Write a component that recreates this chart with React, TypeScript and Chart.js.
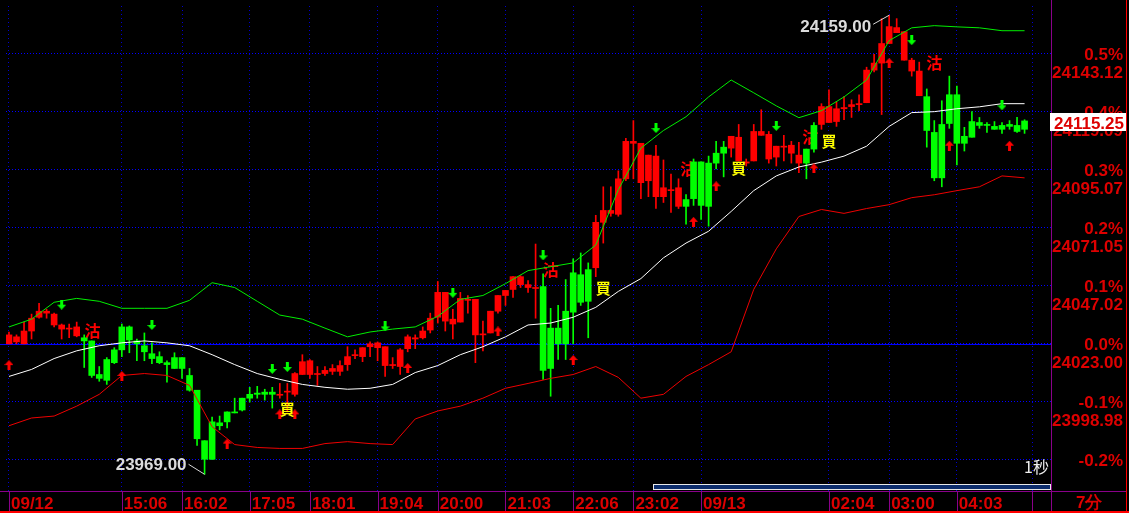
import React, { useEffect, useRef } from "react";
import { Chart, registerables } from "chart.js";

Chart.register(...registerables);

// ---------- data (7-minute candles, 09/12 13:21 -> 09/13 04:59) ----------
const OPEN = [
  24026.7, 24025.9, 24028.3, 24033.6, 24036.5, 24036.5, 24035.3, 24030.8, 24029.5, 24030.0,
  24024.2, 24009.9, 24008.7, 24007.9, 24015.2, 24020.5, 24024.6, 24023.0, 24019.7, 24016.9,
  24015.2, 24014.4, 24012.8, 24012.8, 24003.8, 23983.7, 23975.2, 23975.2, 23989.1, 23990.7,
  23994.4, 23995.6, 24000.5, 24002.1, 24002.1, 24002.1, 24002.1, 24003.4, 24010.7, 24015.6,
  24016.0, 24010.7, 24012.0, 24012.8, 24014.0, 24017.7, 24018.5, 24021.4, 24023.0, 24023.4,
  24021.8, 24014.4, 24020.5, 24025.9, 24025.5, 24028.3, 24033.6, 24044.3, 24044.3, 24033.2,
  24041.8, 24041.4, 24041.4, 24027.1, 24036.5, 24043.0, 24045.1, 24050.8, 24050.8, 24047.5,
  24046.3, 24012.0, 24012.8, 24023.0, 24023.0, 24036.1, 24040.2, 24040.6, 24073.3, 24078.2,
  24078.2, 24091.3, 24106.8, 24106.8, 24106.0, 24101.1, 24100.7, 24087.6, 24086.8, 24087.6,
  24079.9, 24083.1, 24080.3, 24079.9, 24097.8, 24101.9, 24108.9, 24108.5, 24098.3, 24110.9,
  24110.9, 24109.7, 24104.8, 24104.8, 24105.2, 24101.1, 24097.8, 24103.6, 24121.2, 24121.2,
  24120.3, 24120.8, 24122.0, 24122.4, 24136.3, 24139.2, 24147.3, 24154.3, 24153.9, 24152.2,
  24140.4, 24135.9, 24111.3, 24091.7, 24091.7, 24114.2, 24106.0, 24106.0, 24108.5, 24113.4,
  24113.4, 24111.8, 24111.8, 24113.0, 24110.9, 24111.8,
];
const HIGH = [
  24027.9, 24026.7, 24032.0, 24035.3, 24039.8, 24037.3, 24035.7, 24031.2, 24031.2, 24032.0,
  24026.7, 24024.2, 24013.6, 24017.3, 24021.4, 24031.2, 24030.4, 24025.0, 24027.5, 24023.4,
  24019.7, 24016.0, 24019.3, 24017.3, 24012.8, 24003.8, 23982.9, 23992.7, 23993.1, 23994.8,
  24000.5, 24000.5, 24005.0, 24005.4, 24004.2, 24005.0, 24006.6, 24006.6, 24011.1, 24018.5,
  24016.5, 24013.6, 24013.6, 24014.4, 24016.0, 24021.8, 24020.5, 24021.4, 24023.8, 24023.8,
  24021.8, 24017.3, 24021.0, 24026.7, 24026.7, 24030.0, 24035.7, 24048.8, 24044.3, 24037.3,
  24044.3, 24043.0, 24041.4, 24032.4, 24036.5, 24043.0, 24045.1, 24050.8, 24051.2, 24049.2,
  24064.3, 24052.0, 24037.7, 24038.9, 24049.6, 24058.2, 24060.6, 24056.5, 24076.2, 24088.0,
  24088.0, 24094.6, 24108.1, 24115.4, 24106.0, 24101.1, 24105.2, 24099.1, 24093.3, 24091.3,
  24084.8, 24099.5, 24098.3, 24100.7, 24106.8, 24106.8, 24108.9, 24113.8, 24099.5, 24113.8,
  24119.9, 24110.9, 24104.8, 24109.3, 24106.8, 24106.4, 24103.6, 24114.6, 24122.4, 24128.1,
  24123.2, 24125.3, 24124.0, 24126.1, 24137.5, 24142.8, 24157.6, 24159.0, 24157.6, 24152.2,
  24141.2, 24139.6, 24128.5, 24115.4, 24123.6, 24133.8, 24129.7, 24112.6, 24119.1, 24116.7,
  24114.6, 24115.0, 24114.6, 24115.4, 24116.7, 24115.75,
];
const LOW = [
  24023.0, 24023.0, 24023.0, 24025.0, 24033.6, 24033.6, 24030.0, 24025.0, 24025.5, 24025.9,
  24013.2, 24009.1, 24007.5, 24006.2, 24014.8, 24017.7, 24019.3, 24016.0, 24016.0, 24014.8,
  24014.8, 24007.1, 24012.8, 24008.7, 24003.4, 23980.9, 23969.0, 23975.2, 23987.4, 23988.2,
  23994.4, 23995.2, 23998.9, 24000.5, 23999.7, 23996.4, 24000.5, 23994.8, 24001.3, 24010.3,
  24008.7, 24005.8, 24009.9, 24010.3, 24009.9, 24012.0, 24016.9, 24015.6, 24017.7, 24016.0,
  24009.5, 24012.8, 24010.3, 24019.7, 24021.0, 24025.0, 24027.5, 24031.6, 24028.3, 24025.0,
  24032.0, 24035.7, 24015.2, 24020.1, 24027.5, 24035.7, 24038.9, 24042.2, 24046.3, 24044.3,
  24033.6, 24008.3, 24001.3, 24016.5, 24016.5, 24023.0, 24038.9, 24025.5, 24050.8, 24064.7,
  24075.8, 24075.8, 24090.5, 24091.3, 24083.1, 24083.9, 24079.0, 24081.5, 24077.4, 24079.0,
  24072.5, 24080.3, 24074.5, 24071.7, 24095.4, 24092.1, 24100.3, 24098.7, 24096.6, 24098.7,
  24109.3, 24097.8, 24096.6, 24098.7, 24097.8, 24093.8, 24091.3, 24102.3, 24111.8, 24114.6,
  24113.0, 24115.8, 24116.7, 24119.5, 24122.8, 24135.5, 24117.9, 24147.3, 24151.8, 24140.4,
  24133.8, 24125.7, 24104.4, 24090.5, 24088.0, 24112.2, 24097.0, 24102.8, 24108.5, 24112.2,
  24110.5, 24111.8, 24110.1, 24111.8, 24110.5, 24110.1,
];
const CLOSE = [
  24023.0, 24023.8, 24023.0, 24028.3, 24034.0, 24035.7, 24030.8, 24029.1, 24029.1, 24026.3,
  24025.5, 24024.2, 24010.3, 24016.5, 24020.5, 24030.0, 24030.0, 24024.2, 24022.2, 24018.9,
  24017.7, 24015.2, 24017.3, 24017.3, 24009.9, 24003.8, 23982.9, 23990.7, 23990.3, 23994.8,
  23994.8, 24000.5, 24002.1, 24002.6, 24003.0, 24003.0, 24001.7, 24003.0, 24002.1, 24010.3,
  24010.3, 24010.3, 24010.7, 24011.6, 24011.6, 24014.4, 24018.1, 24017.7, 24021.8, 24021.4,
  24014.0, 24014.0, 24013.6, 24021.0, 24025.0, 24025.5, 24028.7, 24034.0, 24032.4, 24031.2,
  24032.0, 24041.0, 24026.7, 24026.7, 24027.5, 24036.5, 24043.0, 24045.5, 24047.5, 24046.3,
  24045.9, 24046.7, 24029.5, 24029.5, 24036.5, 24052.4, 24051.6, 24053.7, 24054.5, 24073.3,
  24077.0, 24076.6, 24091.3, 24106.0, 24089.7, 24090.5, 24083.9, 24083.9, 24086.4, 24079.9,
  24082.7, 24098.3, 24098.3, 24097.8, 24101.9, 24104.4, 24104.0, 24098.7, 24097.8, 24098.7,
  24109.3, 24099.5, 24100.3, 24104.4, 24101.9, 24097.8, 24103.6, 24113.4, 24113.8, 24114.6,
  24115.0, 24120.3, 24121.2, 24122.0, 24122.8, 24136.3, 24139.2, 24147.3, 24151.8, 24140.4,
  24135.9, 24125.7, 24125.3, 24110.5, 24113.8, 24126.1, 24126.1, 24108.9, 24115.0, 24114.6,
  24113.8, 24113.0, 24113.4, 24113.8, 24113.4, 24115.25,
];

// Bollinger bands, read every 3rd candle
const BAND_STEP = 3;
const UPPER = [
  24030.0, 24033.2, 24040.2, 24041.8, 24040.6, 24037.7, 24037.7, 24037.7, 24041.0, 24048.3,
  24046.3, 24040.6, 24034.9, 24033.2, 24029.5, 24025.9, 24027.9, 24029.1, 24030.0, 24034.4,
  24041.4, 24043.0, 24047.9, 24053.3, 24054.9, 24056.5, 24063.9, 24086.8, 24104.0, 24111.3,
  24117.0, 24125.2, 24132.2, 24126.9, 24121.5, 24116.6, 24119.5, 24125.2, 24132.2, 24148.5,
  24153.8, 24154.7, 24154.2, 24153.8, 24152.6, 24152.6,
];
const MIDDLE = [
  24009.5, 24012.4, 24016.9, 24020.1, 24022.2, 24023.4, 24024.2, 24023.4, 24022.2, 24018.5,
  24014.4, 24010.7, 24008.3, 24006.2, 24005.0, 24004.2, 24004.6, 24006.2, 24011.1, 24014.0,
  24018.5, 24021.8, 24025.9, 24030.8, 24031.6, 24034.0, 24038.1, 24044.7, 24050.0, 24058.6,
  24064.7, 24069.6, 24077.8, 24086.4, 24092.5, 24096.2, 24098.2, 24100.7, 24104.8, 24113.0,
  24118.7, 24119.1, 24120.3, 24121.1, 24122.4, 24122.4,
];
const LOWER = [
  23989.1, 23992.3, 23993.1, 23997.2, 24002.1, 24009.9, 24010.7, 24009.9, 24005.8, 23988.7,
  23981.3, 23980.1, 23979.7, 23979.7, 23981.7, 23982.5, 23981.7, 23981.3, 23991.9, 23995.2,
  23997.2, 24000.5, 24004.6, 24006.6, 24008.7, 24010.3, 24013.6, 24009.1, 24000.5, 24002.1,
  24009.5, 24014.4, 24019.7, 24045.5, 24062.3, 24075.7, 24078.6, 24077.0, 24079.0, 24080.6,
  24083.5, 24084.7, 24086.4, 24088.0, 24092.5, 24091.7,
];

// signal markers
const SELL_ARROW_AT = [7, 19, 35, 37, 50, 59, 71, 86, 102, 120, 132];
const SELL_ARROW_PRICE = [24039.2, 24030.8, 24012.6, 24013.4, 24030.2, 24044.1, 24059.6, 24112.3, 24113.2, 24148.7, 24121.7];
const BUY_ARROW_AT = [0, 15, 29, 36, 38, 53, 65, 75, 91, 94, 107, 117, 125, 133];
const BUY_ARROW_PRICE = [24014.2, 24009.7, 23981.7, 23993.8, 23993.8, 24013.0, 24028.1, 24016.3, 24073.5, 24088.2, 24095.6, 24139.3, 24105.0, 24105.0];
const SELL_TEXT_AT = [11.1, 72, 123, 90.3, 106.5];
const SELL_TEXT_PRICE = [24028.3, 24053.7, 24139.1, 24095.4, 24108.5];
const BUY_TEXT_AT = [37, 79, 97, 109];
const BUY_TEXT_PRICE = [23996.0, 24045.9, 24095.8, 24106.8];

// axes
const TIME_TICK_AT = [0, 15, 23, 32, 40, 49, 57, 66, 75, 83, 92, 109, 117, 126, 136];
const TIME_TICK_LABELS = ["09/12", "15:06", "16:02", "17:05", "18:01", "19:04", "20:00", "21:03", "22:06", "23:02", "09/13", "02:04", "03:00", "04:03", ""];
const BASE_PRICE = 24023.0;
const PRICE_TICKS = [24143.12, 24119.09, 24095.07, 24071.05, 24047.02, 24023.0, 23998.98, 23974.95];
const PRICE_LABELS = ["24143.12", "24119.09", "24095.07", "24071.05", "24047.02", "24023.00", "23998.98", ""];
const PCT_LABELS = ["0.5%", "0.4%", "0.3%", "0.2%", "0.1%", "0.0%", "-0.1%", "-0.2%"];
const LAST_PRICE = 24115.25;
const PERIOD_LABEL = "7分";
const SPEED_LABEL = "1秒";

// ---------- layout / style ----------
const W = 1129;
const H = 513;
const X_MIN = -0.3965;
const X_MAX = 138.514;
const Y_MIN = 23962.08;
const Y_MAX = 24162.83;
const RED = "#ff0000";
const GREEN = "#00ff00";
const AXIS_RED = "#dd0000";
const PURPLE = "#8a008a";
const LABEL_FONT = 'bold 17px "Liberation Sans", Arial, sans-serif';

function makeArrow(color: string, down: boolean) {
  const c = document.createElement("canvas");
  c.width = 9;
  c.height = 10;
  const g = c.getContext("2d")!;
  g.fillStyle = color;
  g.beginPath();
  if (down) {
    g.fillRect(3, 0, 3, 5);
    g.moveTo(0, 5);
    g.lineTo(9, 5);
    g.lineTo(4.5, 10);
  } else {
    g.fillRect(3, 5, 3, 5);
    g.moveTo(4.5, 0);
    g.lineTo(9, 5);
    g.lineTo(0, 5);
  }
  g.closePath();
  g.fill();
  return c;
}

const overlay = {
  id: "overlay",
  beforeDatasetsDraw(chart: any) {
    const { ctx, scales, chartArea } = chart;
    const x = scales.x;
    const y = scales.y;
    ctx.save();
    // solid zero-percent line
    ctx.fillStyle = "#0000ff";
    ctx.fillRect(0, Math.round(y.getPixelForValue(BASE_PRICE)), chartArea.right, 1);

    ctx.font = 'bold 16px "Noto Sans CJK TC", sans-serif';
    ctx.textAlign = "center";
    ctx.textBaseline = "middle";
    ctx.fillStyle = RED;
    SELL_TEXT_AT.forEach((v, k) => {
      ctx.fillText("沽", x.getPixelForValue(v), y.getPixelForValue(SELL_TEXT_PRICE[k]));
    });
    ctx.restore();
  },
  afterDatasetsDraw(chart: any) {
    const { ctx, scales } = chart;
    const x = scales.x;
    const y = scales.y;
    ctx.save();
    ctx.font = 'bold 15px "Noto Sans CJK TC", sans-serif';
    ctx.textAlign = "center";
    ctx.textBaseline = "middle";
    ctx.fillStyle = "#ffff00";
    BUY_TEXT_AT.forEach((v, k) => {
      ctx.fillText("買", x.getPixelForValue(v), y.getPixelForValue(BUY_TEXT_PRICE[k]));
    });

    // high / low annotations
    let hi = 0;
    let lo = 0;
    HIGH.forEach((v, i) => { if (v > HIGH[hi]) hi = i; });
    LOW.forEach((v, i) => { if (v < LOW[lo]) lo = i; });
    ctx.strokeStyle = "#d8d8d8";
    ctx.fillStyle = "#dcdcdc";
    ctx.lineWidth = 1;
    ctx.font = LABEL_FONT;
    ctx.textAlign = "right";
    ctx.textBaseline = "alphabetic";
    const hx = x.getPixelForValue(hi);
    const hy = y.getPixelForValue(HIGH[hi]);
    ctx.beginPath();
    ctx.moveTo(hx, hy);
    ctx.lineTo(hx - 16, hy + 9);
    ctx.stroke();
    ctx.fillText(HIGH[hi].toFixed(2), hx - 18, hy + 17);
    const lx = x.getPixelForValue(lo);
    const ly = y.getPixelForValue(LOW[lo]);
    ctx.beginPath();
    ctx.moveTo(lx, ly);
    ctx.lineTo(lx - 16, ly - 10);
    ctx.stroke();
    ctx.fillText(LOW[lo].toFixed(2), lx - 18, ly - 4);
    ctx.restore();
  },
  afterDraw(chart: any) {
    const { ctx, scales, chartArea } = chart;
    const x = scales.x;
    const y = scales.y;
    const right = chartArea.right;
    const bottom = chartArea.bottom;
    ctx.save();

    // scroll bar
    ctx.fillStyle = "#0c2c6c";
    ctx.fillRect(653, bottom - 6, right - 653, 5);
    ctx.strokeStyle = "#e8e8e8";
    ctx.lineWidth = 1;
    ctx.strokeRect(653.5, bottom - 6.5, right - 654, 5);

    // speed label
    ctx.fillStyle = "#f0f0f0";
    ctx.font = '16px "Noto Sans CJK TC", sans-serif';
    ctx.textAlign = "right";
    ctx.textBaseline = "alphabetic";
    ctx.fillText(SPEED_LABEL, right - 2, bottom - 18);

    // frame lines
    ctx.fillStyle = PURPLE;
    ctx.fillRect(0, Math.round(bottom), 1126, 1);
    ctx.fillRect(Math.round(right), 0, 1, H - 2);
    TIME_TICK_AT.forEach((v) => {
      ctx.fillRect(Math.round(x.getPixelForValue(v)), Math.round(bottom), 1, H - 2 - Math.round(bottom));
    });
    ctx.fillStyle = RED;
    ctx.fillRect(0, H - 2, W, 2);
    ctx.fillRect(1126, 0, 1, H);

    // time labels
    ctx.fillStyle = AXIS_RED;
    ctx.font = LABEL_FONT;
    ctx.textAlign = "left";
    TIME_TICK_AT.forEach((v, k) => {
      ctx.fillText(TIME_TICK_LABELS[k], x.getPixelForValue(v) + 2, 509);
    });
    ctx.fillText(PERIOD_LABEL, 1076, 508);

    // price labels
    ctx.textAlign = "right";
    PRICE_TICKS.forEach((v, k) => {
      const py = y.getPixelForValue(v);
      ctx.fillText(PCT_LABELS[k], 1123, py + 6.5);
      if (PRICE_LABELS[k]) ctx.fillText(PRICE_LABELS[k], 1123, py + 24.5);
    });

    // last price box
    const ly = y.getPixelForValue(LAST_PRICE);
    ctx.fillStyle = "#ffffff";
    ctx.fillRect(1050, Math.round(ly) - 8, 76, 18);
    ctx.fillStyle = AXIS_RED;
    ctx.fillText(LAST_PRICE.toFixed(2), 1124, Math.round(ly) + 8);
    ctx.restore();
  },
};

export default function App() {
  const ref = useRef<HTMLCanvasElement>(null);

  useEffect(() => {
    document.body.style.margin = "0";
    document.body.style.background = "#000";
    const canvas = ref.current;
    if (!canvas) return;
    const idx = OPEN.map((_, i) => i);
    const colors = idx.map((i) => (CLOSE[i] > OPEN[i] ? GREEN : RED));
    const band = (arr: number[]) => arr.map((v, k) => ({ x: k * BAND_STEP, y: v }));

    const chart = new Chart(canvas, {
      type: "bar",
      data: {
        datasets: [
          {
            type: "scatter",
            data: SELL_ARROW_AT.map((v, k) => ({ x: v, y: SELL_ARROW_PRICE[k] })),
            pointStyle: makeArrow(GREEN, true) as any,
            pointRadius: 5,
            clip: false as any,
            order: 0,
          } as any,
          {
            type: "scatter",
            data: BUY_ARROW_AT.map((v, k) => ({ x: v, y: BUY_ARROW_PRICE[k] })),
            pointStyle: makeArrow(RED, false) as any,
            pointRadius: 5,
            clip: false as any,
            order: 0,
          } as any,
          {
            type: "line",
            data: band(UPPER),
            borderColor: "#00ee00",
            borderWidth: 1,
            pointRadius: 0,
            tension: 0,
            order: 1,
          } as any,
          {
            type: "line",
            data: band(MIDDLE),
            borderColor: "#ffffff",
            borderWidth: 1,
            pointRadius: 0,
            tension: 0,
            order: 1,
          } as any,
          {
            type: "line",
            data: band(LOWER),
            borderColor: "#ee0000",
            borderWidth: 1,
            pointRadius: 0,
            tension: 0,
            order: 1,
          } as any,
          {
            type: "bar",
            data: idx.map((i) => ({ x: i, y: [OPEN[i], CLOSE[i]] })),
            backgroundColor: colors,
            borderWidth: 0,
            barThickness: 6,
            minBarLength: 1,
            grouped: false,
            order: 2,
          } as any,
          {
            type: "bar",
            data: idx.map((i) => ({ x: i, y: [LOW[i], HIGH[i]] })),
            backgroundColor: colors,
            borderWidth: 0,
            barThickness: 1,
            minBarLength: 1,
            grouped: false,
            order: 3,
          } as any,
        ],
      },
      options: {
        responsive: false,
        animation: false,
        devicePixelRatio: 1,
        events: [],
        layout: { padding: 0 },
        plugins: { legend: { display: false }, tooltip: { enabled: false } },
        scales: {
          x: {
            type: "linear",
            position: "bottom",
            min: X_MIN,
            max: X_MAX,
            offset: false,
            afterBuildTicks: (s: any) => {
              s.ticks = TIME_TICK_AT.map((v) => ({ value: v }));
            },
            afterFit: (s: any) => {
              s.height = 22;
            },
            ticks: { display: false },
            grid: { color: "#0000d0", lineWidth: 1, drawTicks: false, offset: false },
            border: { display: false, dash: [1, 3] },
          },
          y: {
            type: "linear",
            position: "right",
            min: Y_MIN,
            max: Y_MAX,
            afterBuildTicks: (s: any) => {
              s.ticks = PRICE_TICKS.map((v) => ({ value: v }));
            },
            afterFit: (s: any) => {
              s.width = 78;
            },
            ticks: { display: false },
            grid: { color: "#0000ff", lineWidth: 1, drawTicks: false },
            border: { display: false, dash: [1, 2] },
          },
        },
      } as any,
      plugins: [overlay],
    });
    return () => chart.destroy();
  }, []);

  return (
    <div style={{ position: "fixed", left: 0, top: 0, width: W, height: H, background: "#000" }}>
      <canvas ref={ref} width={W} height={H} style={{ display: "block", width: W, height: H }} />
    </div>
  );
}
